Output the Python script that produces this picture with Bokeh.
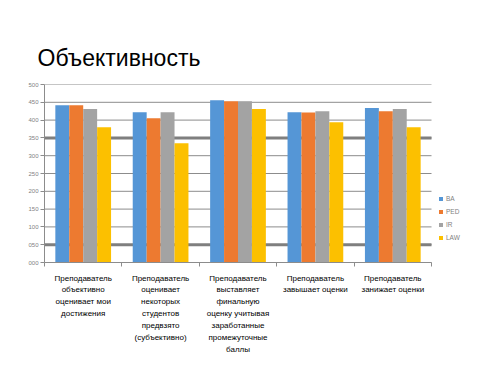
from bokeh.plotting import figure
from bokeh.models import (Range1d, FixedTicker, PrintfTickFormatter, Legend,
                          LegendItem, Title, ColumnDataSource)
from bokeh.transform import dodge
from bokeh.embed import file_html
from bokeh.resources import INLINE

categories = [
    "Преподаватель\nобъективно\nоценивает мои\nдостижения",
    "Преподаватель\nоценивает\nнекоторых\nстудентов\nпредвзято\n(субъективно)",
    "Преподаватель\nвыставляет\nфинальную\nоценку учитывая\nзаработанные\nпромежуточные\nбаллы",
    "Преподаватель\nзавышает оценки",
    "Преподаватель\nзанижает оценки",
]
series_names = ["BA", "PED", "IR", "LAW"]
BA = [442, 422, 456, 422, 434]
PED = [442, 405, 453, 421, 425]
IR = [431, 422, 453, 425, 431]
LAW = [380, 335, 431, 394, 380]
y_ticks = [0, 50, 100, 150, 200, 250, 300, 350, 400, 450, 500]
thick_lines = [50, 350]

colors = ["#5596d6", "#ed7a30", "#a3a3a3", "#fcc000"]
n = len(categories)
pos = [i + 0.5 for i in range(n)]
src = ColumnDataSource(dict(x=pos, BA=BA, PED=PED, IR=IR, LAW=LAW))

# frame: left 44, right edge of figure; plot area (categories) spans 387px
FIG_W, FIG_H = 479, 359
LEFT, TOP, BOTTOM = 44, 84, 97
frame_w = FIG_W - LEFT
x_end = n * frame_w / 387.0

p = figure(width=FIG_W, height=FIG_H, output_backend="svg", toolbar_location=None,
           x_range=Range1d(0, x_end), y_range=Range1d(0, 500),
           min_border_left=LEFT, min_border_right=0, min_border_top=TOP,
           min_border_bottom=BOTTOM)
p.outline_line_color = None
p.xgrid.visible = False
p.ygrid.visible = False

# gridlines (bounded to the category area)
p.segment(x0=[0] * len(y_ticks), x1=[n] * len(y_ticks), y0=y_ticks, y1=y_ticks,
          line_color="#8c8c8c", line_width=1)
p.segment(x0=[0] * len(thick_lines), x1=[n] * len(thick_lines), y0=thick_lines,
          y1=thick_lines, line_color="#7f7f7f", line_width=3)

bw = 0.18
offsets = [-0.27, -0.09, 0.09, 0.27]
items = []
for name, col, off in zip(series_names, colors, offsets):
    r = p.vbar(x=dodge("x", off), top=name, width=bw, bottom=0, source=src,
               fill_color=col, line_color=None)
    items.append(LegendItem(label=name, renderers=[r]))

# axes
yax = p.yaxis[0]
yax.ticker = FixedTicker(ticks=y_ticks)
yax.formatter = PrintfTickFormatter(format="%03d")
yax.major_tick_out = 4
yax.major_tick_in = 0
yax.minor_tick_line_color = None
yax.axis_line_color = "#8c8c8c"
yax.major_tick_line_color = "#8c8c8c"
yax.major_label_text_font = "Liberation Sans"
yax.major_label_text_font_size = "6px"
yax.major_label_text_color = "#7f7f7f"
yax.major_label_standoff = 2

xax = p.xaxis[0]
xax.bounds = (0, n)
xax.ticker = FixedTicker(ticks=pos, minor_ticks=list(range(n + 1)))
xax.major_label_overrides = {pv: c for pv, c in zip(pos, categories)}
xax.major_tick_line_color = None
xax.minor_tick_out = 4
xax.minor_tick_in = 0
xax.minor_tick_line_color = "#8c8c8c"
xax.axis_line_color = "#8c8c8c"
xax.major_label_text_font = "Liberation Sans"
xax.major_label_text_font_size = "8px"
xax.major_label_text_color = "#000000"
xax.major_label_text_line_height = 1.33
xax.major_label_standoff = 5

legend = Legend(items=items, location=(394, 21), orientation="vertical",
                glyph_width=5, glyph_height=5, label_text_font_size="6.5px",
                label_text_color="#7f7f7f", label_text_font="Liberation Sans",
                spacing=5, padding=0, margin=0, label_standoff=3,
                label_height=8, border_line_alpha=0, background_fill_alpha=0)
p.add_layout(legend, "center")

title = Title(text="Объективность", text_font="Liberation Sans",
              text_font_size="23px", text_color="#000000", text_font_style="normal",
              align="left", offset=-7, standoff=28)
p.add_layout(title, "above")

open("out.html", "w").write(file_html(p, INLINE))
